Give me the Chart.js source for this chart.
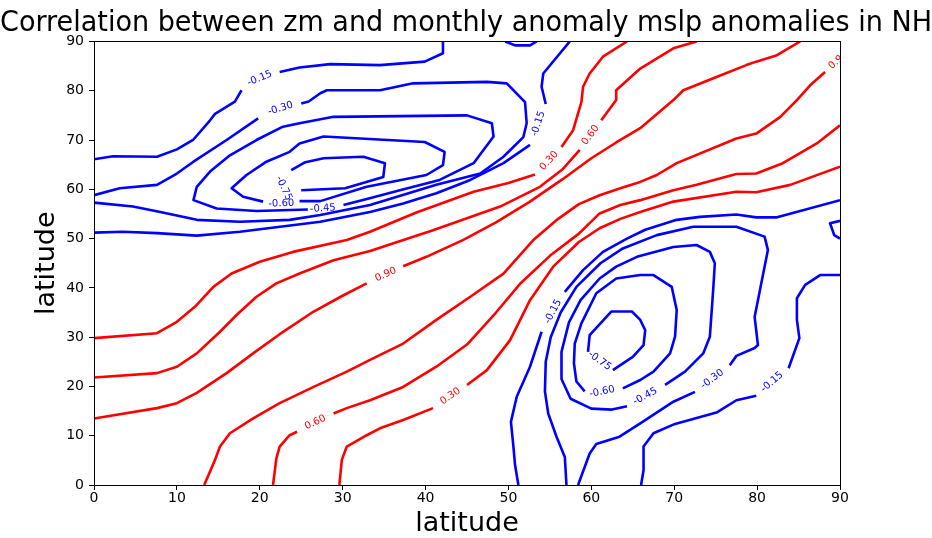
<!DOCTYPE html>
<html>
<head>
<meta charset="utf-8">
<script src="https://cdn.jsdelivr.net/npm/chart.js@4.4.1/dist/chart.umd.min.js"></script>
<style>
  html, body { margin: 0; padding: 0; background: #fff; }
  #wrap { width: 932px; height: 538px; }
</style>
</head>
<body>
<div id="wrap"><canvas id="chart"></canvas></div>
<script>
// contour pieces, [x, y] pairs (gaps = where a label sits)
// negative levels (blue)
const n015_a = [[0,66.1],[2.3,66.7],[7.6,66.6],[10,68.1],[12,70.1],[14,74],[14.6,75.3],[17,77.8],[17.8,80.1]];
const n015_b = [[22.4,83.8],[24.8,84.7],[28.5,85.4],[34.5,85.2],[39.9,85.9],[42.1,87.6],[42.1,90]];
const n015_c = [[0,51.2],[3.5,51.4],[7.6,51.1],[12.4,50.6],[17.6,51.4],[27.3,53.4],[33.3,55.4],[37.3,57.1],[41.3,59.2],[45.4,61.9],[49.4,65.3],[52.6,69]];
const n015_d = [[54.5,77.3],[54,80.8],[54.2,83.5],[57.4,90]];
const n015_e = [[49.6,90],[50.8,89.2],[52.6,89.2],[53.4,90]];
const n030_a = [[0,58.8],[3.1,60.2],[7.6,60.9],[10,63.2],[12,65.6],[16,70],[19.8,74.4]];
const n030_b = [[25,77.4],[25.9,77.8],[27.3,79.5],[28.1,80.1],[34.5,80.1],[38.5,81.5],[47.4,81.8],[49.8,81.5],[52,77.7],[52.2,73.4],[51.8,70.6],[49.4,66.6],[46.6,63.2],[41.3,60.9],[33.3,56.8],[27.3,54.8],[23.6,53.8],[17.6,53.4],[12.4,53.8],[8,55.4],[4.7,56.5],[0,57.3]];
const n045_a = [[30.1,56.8],[33.5,58.3],[36.9,59.8],[41.7,61.9],[45.8,65.3],[48.2,70.7],[48,73.4],[45,75],[28.9,74.7],[24.8,73.4],[22.8,72.7],[19.6,70],[16.4,66.9],[14,63.6],[12.4,60.5],[12,57.8],[14.8,56.1],[19.6,55.6],[25.8,55.9]];
const n060_a = [[24.8,57.6],[27.3,57.6],[32.9,60.5],[40.1,62.9],[42.1,64.9],[42.3,67.6],[39.9,69.6],[27.7,70.7],[24.8,69.3],[23.6,67.6],[20.8,65.6],[18.4,62.9],[16.6,60.2],[18,58.5],[20.4,57.5]];
const n075_a = [[25,59.8],[30.3,60.2],[34.9,62.5],[35.1,65.3],[32.5,66.6],[27.7,66.3],[25.5,65.5],[23.8,63.9]];
const n015_f = [[51.2,0],[50.8,4],[50.6,7.8],[50.3,12.8],[51,17.9],[52.6,24],[54,31.1]];
const n015_g = [[56.8,39.2],[59,43.6],[61.4,47.3],[64.3,50],[66.5,51.8],[70.3,53.8],[73.1,54.4],[77.5,54.9],[79.9,54.3],[82.3,54.3],[90,57.8]];
const n015_h = [[90,42.6],[87.6,42.6],[85.8,40.6],[84.8,37.9],[84.8,33.5],[85.1,29.8],[83.8,23.7]];
const n015_i = [[79.9,18.1],[77.5,17.2],[75.1,14.7],[70.1,12.4],[67.5,10.5],[66.3,7.8],[66.3,3],[66,0]];
const n030_c = [[90,53.6],[88.8,53.1],[89.3,50.7],[90,50]];
const n030_d = [[57,0],[56.8,5.7],[55.8,9.8],[54.8,14.5],[54.4,19],[54.5,25],[55.1,30],[56.3,35],[58.2,40.2],[61.1,45],[63.8,48],[67.9,50.7],[72.3,52.4],[77.5,52.4],[80.9,50.4],[81.3,47.7],[80.1,37.5],[79.7,34.1],[80.1,28.4],[79.7,27.8],[77.5,26.2],[76.7,24.3]];
const n030_e = [[72.5,18.9],[69.9,16.9],[66,12.6],[63.4,9.8],[60.6,8.3],[59.8,6.4],[58.4,0]];
const n045_b = [[68.9,20.3],[71.3,23],[73.5,26.7],[74.3,30.1],[74.7,39.6],[74.9,45],[74.3,47.3],[72.7,48.7],[69.9,48.3],[65.5,46.3],[63,44.3],[61,41.9],[58.7,37.5],[57.3,33],[56.4,27],[56.4,21.5],[57.5,17.5],[60,15.5],[62.5,15.3],[64.3,16]];
const n060_b = [[63.8,19.6],[65.9,21.3],[67.5,23],[69.5,26.7],[70.1,30.1],[70.3,35.5],[69.7,40.2],[67.5,42.6],[65.9,42.6],[63,41.9],[60.6,38.9],[58.8,32.8],[58,28.7],[57.9,24.7],[58.2,21],[59.2,19]];
const n075_b = [[59.6,27],[59.8,30.4],[62.4,35.2],[64.9,35.2],[65.9,33.5],[66.5,31.4],[66.3,28.4],[65,26],[62.6,23.3]];

// positive levels (red)
const p030_a = [[0,29.8],[7.6,30.8],[10,33.1],[12.2,36.2],[14.4,40.2],[16.6,42.9],[20,45.3],[24,47.3],[30.5,49.7],[33.3,51.4],[38.9,55.3],[45.8,59.5],[50,61.3],[53.2,63]];
const p030_b = [[56.4,68.6],[57.8,72],[58.8,77.7],[59,80.8],[59.8,83.5],[61.4,86.9],[64.3,90]];
const p060_a = [[0,21.8],[7.6,22.7],[10,24],[12.4,26.7],[15.2,31.1],[17.2,34.5],[19.6,38.2],[22,40.9],[24.8,42.9],[28.9,45.6],[33.3,47.5],[40.9,51.7],[49,56.5],[53.8,60.5],[56.5,64],[58.6,68]];
const p060_b = [[61.2,74],[63,78.1],[63,80.1],[65.9,84.5],[69.9,88.6],[72.7,90]];
const p090_a = [[0,13.5],[7.6,15.6],[10,16.6],[12.4,18.7],[16,22.7],[19.2,26.7],[22.4,30.6],[26.5,35.2],[30.1,38.5],[32.9,40.9]];
const p090_b = [[37.3,44.4],[40.1,46.3],[44.5,49.7],[48.5,53.3],[52.5,57.4],[56.5,62],[60,66.3],[63,69.5],[65.9,72.4],[69.9,78.1],[71.1,80.1],[75.1,82.8],[78.7,85.2],[79.9,85.9],[82.4,87.2],[85.2,90]];
const p090_c = [[13.3,0],[14.6,5.1],[15.2,7.8],[16.4,10.5],[19.2,13.5],[22.4,16.6],[26.5,19.9],[30.5,23],[33.3,25.4],[37.3,28.7],[41.3,33.5],[45.4,38.2],[49.4,42.9],[53,49.7],[56,54],[58.5,57],[61,58.8],[63.5,60.2],[65.9,61.5],[67.9,62.9],[70.3,65.3],[77.5,70.3],[79.9,71.3],[82.8,74.7],[84.8,78.1],[86.4,81.1],[88.2,83.8]];
const p060_c = [[21.6,0],[22,5.4],[22.4,7.8],[23.6,10.1],[24.5,10.8]];
const p060_d = [[28.9,14.5],[30.5,15.6],[33.3,17.2],[37.3,19.9],[41.3,24],[45,28.5],[48.5,35],[51.5,41],[55,46.5],[58.5,51],[61,55.1],[63.5,56.8],[65.9,57.8],[69.9,59.8],[72.7,60.9],[77.5,63.1],[79.9,63.2],[83.1,65.3],[87.2,69.3],[90,73]];
const p030_c = [[29.6,0],[29.9,5.1],[30.5,7.8],[32.9,10.1],[34.5,11.5],[37.3,13.2],[40.9,15.6]];
const p030_d = [[45,20.3],[47.4,23.3],[50.2,29.4],[52.6,37.5],[55.4,44.3],[58.5,49.3],[61,52.1],[63.5,54],[65.9,55.4],[69.9,57.5],[77.5,59.5],[79.9,59.4],[84,60.9],[90,64.6]];

// inline contour labels: text, x, y, angle (deg, counter-clockwise)
const labelText  = ['-0.15','-0.30','-0.75','-0.60','-0.45','-0.15','0.30','0.60','0.90','0.90','0.60','0.30','-0.15','-0.75','-0.60','-0.45','-0.30','-0.15'];
const labelX     = [20, 22.5, 22.9, 22.6, 27.6, 53.6, 54.9, 59.9, 35.2, 89.8, 26.7, 43, 55.4, 61, 61.3, 66.5, 74.6, 81.8];
const labelY     = [82.5, 76.4, 60.2, 57.1, 56.1, 73.3, 65.8, 71, 42.7, 86.2, 12.7, 18, 35.2, 25.2, 18.9, 18, 21.5, 20.9];
const labelAngle = [22, 17, -65, 2, 4, 72, 48, 54, 25, 42, 26, 34, 62, -36, 12, 28, 37, 41];

const xTicks = [0,10,20,30,40,50,60,70,80,90];
const yTicks = [0,10,20,30,40,50,60,70,80,90];

const BLUE = '#0000ff';
const RED = '#ff0000';

const blueLines = [n015_a, n015_b, n015_c, n015_d, n015_e, n030_a, n030_b, n045_a, n060_a, n075_a,
                   n015_f, n015_g, n015_h, n015_i, n030_c, n030_d, n030_e, n045_b, n060_b, n075_b];
const redLines = [p030_a, p030_b, p060_a, p060_b, p090_a, p090_b, p090_c, p060_c, p060_d, p030_c, p030_d];

function toSet(pts, color) {
    return {
        data: pts.map(p => ({x: p[0], y: p[1]})),
        borderColor: color,
        backgroundColor: color,
        borderWidth: 2.6,
        borderJoinStyle: 'round',
        pointRadius: 0,
        showLine: true,
        tension: 0,
        fill: false
    };
}

const datasets = blueLines.map(l => toSet(l, BLUE)).concat(redLines.map(l => toSet(l, RED)));

// frame + inline contour labels
const frameAndLabels = {
    id: 'frameAndLabels',
    afterDatasetsDraw(chart) {
        const {ctx, chartArea: a, scales: {x, y}} = chart;
        ctx.save();
        ctx.beginPath();
        ctx.rect(a.left, a.top, a.right - a.left, a.bottom - a.top);
        ctx.clip();
        ctx.font = '10px "DejaVu Sans"';
        ctx.textAlign = 'center';
        ctx.textBaseline = 'middle';
        labelText.forEach((t, i) => {
            ctx.save();
            ctx.translate(x.getPixelForValue(labelX[i]), y.getPixelForValue(labelY[i]));
            ctx.rotate(-labelAngle[i] * Math.PI / 180);
            ctx.fillStyle = t.startsWith('-') ? BLUE : RED;
            ctx.fillText(t, 0, 0);
            ctx.restore();
        });
        ctx.restore();
        ctx.save();
        ctx.strokeStyle = '#000';
        ctx.lineWidth = 1;
        ctx.strokeRect(Math.round(a.left) + 0.5, Math.round(a.top) + 0.5,
                       Math.round(a.right - a.left), Math.round(a.bottom - a.top));
        ctx.restore();
    }
};

const config = {
    type: 'scatter',
    data: { datasets },
    options: {
        responsive: true,
        maintainAspectRatio: false,
        animation: false,
        devicePixelRatio: 1,
        layout: { padding: 0 },
        plugins: {
            legend: { display: false },
            tooltip: { enabled: false },
            title: {
                display: true,
                text: 'Correlation between zm and monthly anomaly mslp anomalies in NH',
                color: '#000',
                font: { family: 'DejaVu Sans', size: 29.2, weight: 'normal' },
                padding: { top: 6, bottom: 0.4 }
            }
        },
        scales: {
            x: {
                type: 'linear',
                min: 0,
                max: 90,
                afterBuildTicks: s => { s.ticks = xTicks.map(v => ({value: v})); },
                afterFit: s => { s.height = 53; },
                ticks: {
                    color: '#000',
                    font: { family: 'DejaVu Sans', size: 14 },
                    padding: 0,
                    maxRotation: 0
                },
                grid: { drawOnChartArea: false, tickLength: 5, tickColor: '#000', tickWidth: 1 },
                border: { display: false },
                title: {
                    display: true,
                    text: 'latitude',
                    color: '#000',
                    font: { family: 'DejaVu Sans', size: 27 },
                    padding: { top: 0, bottom: -2 }
                }
            },
            y: {
                type: 'linear',
                min: 0,
                max: 90,
                afterBuildTicks: s => { s.ticks = yTicks.map(v => ({value: v})); },
                afterFit: s => { s.width = 94; },
                ticks: {
                    color: '#000',
                    font: { family: 'DejaVu Sans', size: 14 },
                    padding: 5
                },
                grid: { drawOnChartArea: false, tickLength: 5, tickColor: '#000', tickWidth: 1 },
                border: { display: false },
                title: {
                    display: true,
                    text: 'latitude',
                    color: '#000',
                    font: { family: 'DejaVu Sans', size: 27 },
                    padding: { top: 31, bottom: 0 }
                }
            },
            // empty right-hand margin so the plot box ends where the reference does
            yR: {
                position: 'right',
                afterFit: s => { s.width = 92; },
                ticks: { display: false },
                grid: { display: false },
                border: { display: false }
            }
        }
    },
    plugins: [frameAndLabels]
};

const myChart = new Chart(document.getElementById('chart'), config);
</script>
</body>
</html>
